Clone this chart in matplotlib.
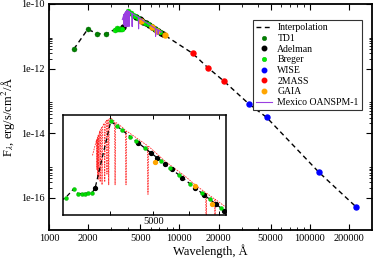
import matplotlib
matplotlib.use("Agg")
import matplotlib.pyplot as plt

plt.rcParams['font.family'] = ['Liberation Serif', 'DejaVu Serif']
plt.rcParams['mathtext.fontset'] = 'stix'

# interpolation knots (wavelength A, flux erg/s/cm2/A)
interp_wl = [1550, 1980, 2350, 2740, 3180, 3310, 3390, 3640, 3700, 4012, 4500, 5000,
             5500, 6000, 6500, 7000, 7700, 12600, 16500, 21900, 34100, 46500, 117000, 226000]
interp_fl = [4.0e-12, 1.65e-11, 1.2e-11, 1.18e-11, 1.61e-11, 1.86e-11, 1.72e-11, 1.74e-11,
             1.89e-11, 5.9e-11, 4.38e-11, 3.33e-11, 2.60e-11, 2.07e-11, 1.68e-11, 1.39e-11,
             1.08e-11, 2.97e-12, 1.07e-12, 4.1e-13, 8.0e-14, 3.1e-14, 6.2e-16, 5.2e-17]

td1_wl = [1550, 1980, 2350, 2740]
td1_fl = [4.0e-12, 1.65e-11, 1.2e-11, 1.18e-11]

adelman_wl = [3700, 4620, 4950, 5100, 5300, 5500, 5800, 6200, 6500, 6900, 7200, 7500]
adelman_fl = [1.89e-11, 4.09e-11, 3.42e-11, 3.16e-11, 2.86e-11, 2.60e-11, 2.26e-11,
              1.90e-11, 1.68e-11, 1.44e-11, 1.29e-11, 1.16e-11]

breger_wl = [3180, 3310, 3390, 3450, 3510, 3570, 3640, 4012, 4150, 4250, 4440, 4570,
             4780, 5200, 5450, 5700, 6050, 6440, 6700, 7100]
breger_fl = [1.61e-11, 1.86e-11, 1.72e-11, 1.71e-11, 1.72e-11, 1.73e-11, 1.74e-11, 5.9e-11,
             5.41e-11, 5.08e-11, 4.54e-11, 4.21e-11, 3.74e-11, 3.01e-11, 2.66e-11, 2.37e-11,
             2.03e-11, 1.73e-11, 1.56e-11, 1.34e-11]

wise_wl = [34100, 46500, 117000, 226000]
wise_fl = [8.0e-14, 3.1e-14, 6.2e-16, 5.2e-17]

tmass_wl = [12600, 16500, 21900]
tmass_fl = [2.97e-12, 1.07e-12, 4.1e-13]

gaia_wl = [5045, 6200, 6760, 7700]
gaia_fl = [2.95e-11, 1.95e-11, 1.45e-11, 1.08e-11]

# OAN-SPM spectrum (continuum with Balmer / telluric absorption)
spec_wl = [3650, 3728, 3734, 3740, 3745, 3750, 3756, 3764, 3771, 3778, 3790, 3798, 3806,
           3826, 3835, 3844, 3878, 3889, 3900, 3926, 3934, 3942, 3960, 3970, 3980, 4020,
           4090, 4102, 4114, 4250, 4328, 4340, 4352, 4600, 4845, 4861, 4877, 5300, 5900,
           6200, 6545, 6563, 6581, 6855, 6870, 6885, 7300]
spec_fl = [3.3e-11, 4.3e-11, 2.6e-11, 4.4e-11, 4.5e-11, 2.3e-11, 4.6e-11, 4.7e-11, 2.2e-11,
           4.8e-11, 5.0e-11, 2.1e-11, 5.1e-11, 5.3e-11, 2.0e-11, 5.4e-11, 5.7e-11, 2.1e-11,
           5.8e-11, 6.0e-11, 2.4e-11, 6.0e-11, 6.1e-11, 2.0e-11, 6.15e-11, 6.2e-11, 5.9e-11,
           2.0e-11, 5.8e-11, 5.35e-11, 5.05e-11, 2.0e-11, 5.0e-11, 4.4e-11, 3.9e-11, 1.7e-11,
           3.85e-11, 3.0e-11, 2.3e-11, 2.0e-11, 1.75e-11, 1.0e-11, 1.73e-11, 1.57e-11,
           1.15e-11, 1.56e-11, 1.35e-11]

xtick_vals = [1000, 2000, 5000, 10000, 20000, 50000, 100000, 200000]
ytick_vals = [1e-16, 1e-14, 1e-12, 1e-10]
ytick_labels = ['1e-16', '1e-14', '1e-12', '1e-10']

dash = (0, (3.5, 2.5))
ms = 3.6

fig = plt.figure(figsize=(3.74, 2.58), dpi=100)
ax = fig.add_axes([0.131, 0.1085, 0.864, 0.876])

ax.plot(interp_wl, interp_fl, color='black', ls=dash, lw=1.0, label='Interpolation', zorder=2)
ax.plot(td1_wl, td1_fl, 'o', color='#008000', ms=ms, mec='#006000', mew=0.3, label='TD1', zorder=3)
ax.plot(adelman_wl, adelman_fl, 'o', color='black', ms=ms, label='Adelman', zorder=3)
ax.plot(breger_wl, breger_fl, 'o', color='#00ee00', ms=ms, mec='#00b000', mew=0.3, label='Breger', zorder=3)
ax.plot(wise_wl, wise_fl, 'o', color='#0000ff', ms=ms, label='WISE', zorder=3)
ax.plot(tmass_wl, tmass_fl, 'o', color='#ff0000', ms=ms, label='2MASS', zorder=3)
ax.plot(gaia_wl, gaia_fl, 'o', color='#ffa500', ms=ms, label='GAIA', zorder=3)
ax.plot(spec_wl, spec_fl, color='#9a3ee0', lw=0.8, label='Mexico OANSPM-1', zorder=4)

ax.set_xscale('log')
ax.set_yscale('log')
ax.set_xlim(1000, 300000)
ax.set_ylim(1e-17, 1e-10)

ax.set_xticks(xtick_vals, [str(v) for v in xtick_vals])
ax.set_xticks([m * 10 ** e for e in (3, 4, 5) for m in (3, 4, 6, 7, 8, 9)
               if m * 10 ** e < 300000], minor=True)
ax.set_yticks(ytick_vals, ytick_labels)
ax.set_yticks([m * 10.0 ** e for e in (-16, -14, -12) for m in range(2, 10)], minor=True)
ax.tick_params(which='both', direction='in', top=True, right=True, labelsize=7.5, pad=3)
ax.tick_params(which='major', length=4, width=0.8)
ax.tick_params(which='minor', length=2, width=0.6)
for s in ax.spines.values():
    s.set_linewidth(1.3)

ax.set_xlabel('Wavelength, Å', fontsize=9, labelpad=0.5)
ax.set_ylabel(r'F$_\lambda$, erg/s/cm$^2$/Å', fontsize=9, labelpad=2)

leg = ax.legend(loc='upper right', bbox_to_anchor=(0.969, 0.929), fontsize=7,
                frameon=True, fancybox=False, framealpha=1, edgecolor='#333333',
                borderaxespad=0, borderpad=0.35, labelspacing=0.17,
                handlelength=1.6, handletextpad=0.6, markerscale=0.9)
leg.get_frame().set_linewidth(0.8)

# inset zoom on the optical part
ins = fig.add_axes([0.1676, 0.1655, 0.4366, 0.390])
ins.plot(spec_wl, spec_fl, color='#ff2a2a', ls=(0, (2, 1.2)), lw=0.6, zorder=2)
ins.plot(interp_wl, interp_fl, color='black', ls=dash, lw=0.9, zorder=3)
ins.plot(adelman_wl, adelman_fl, 'o', color='black', ms=2.8, zorder=4)
ins.plot(breger_wl, breger_fl, 'o', color='#00dd00', ms=2.8, mec='#00a000', mew=0.3, zorder=4)
ins.plot(gaia_wl, gaia_fl, 'o', color='#ffa500', ms=2.8, zorder=4)
ins.set_xscale('log')
ins.set_yscale('log')
ins.set_xlim(3130, 7270)
ins.set_ylim(1.19e-11, 6.6e-11)
ins.set_xticks([4000, 5000, 6000, 7000], ['', '5000', '', ''])
ins.xaxis.set_minor_locator(matplotlib.ticker.NullLocator())
ins.yaxis.set_major_locator(matplotlib.ticker.NullLocator())
ins.yaxis.set_minor_locator(matplotlib.ticker.NullLocator())
ins.tick_params(axis='x', direction='in', top=True, length=3, width=0.7, labelsize=7.5, pad=1.5)
for s in ins.spines.values():
    s.set_linewidth(1.1)

fig.savefig('out.png', dpi=100)
